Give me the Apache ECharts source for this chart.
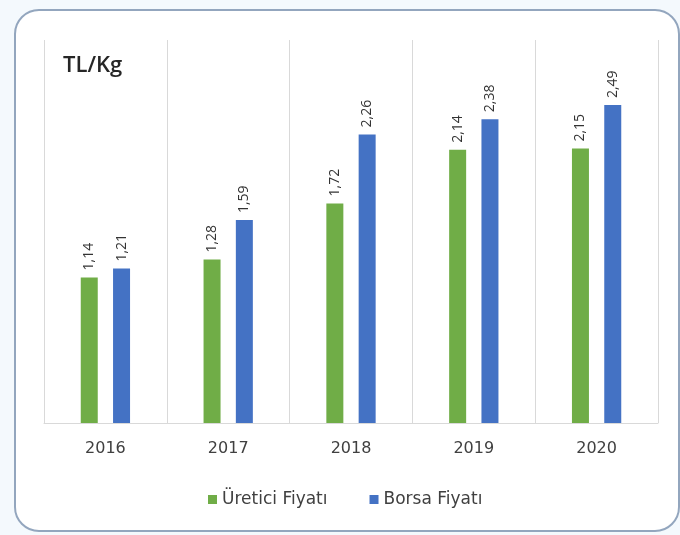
<!DOCTYPE html>
<html>
<head>
<meta charset="utf-8">
<script src="https://cdn.jsdelivr.net/npm/echarts@6/dist/echarts.min.js"></script>
<style>
  html, body { margin: 0; padding: 0; background: #f4f9fd; }
  #chart { width: 680px; height: 535px; }
</style>
</head>
<body>
<div id="chart"></div>
<script>
const years = ['2016', '2017', '2018', '2019', '2020']
const ureticiFiyati = [1.14, 1.28, 1.72, 2.14, 2.15]
const borsaFiyati = [1.21, 1.59, 2.26, 2.38, 2.49]

const myChart = echarts.init(document.getElementById('chart'))

// 1.14 -> "1,14"
const fmt = (p) => p.value.toFixed(2).replace('.', ',')

const labelStyle = {
  show: true,
  position: 'top',
  rotate: 90,
  align: 'left',
  verticalAlign: 'middle',
  distance: 7,
  formatter: fmt,
  fontFamily: 'Open Sans',
  fontWeight: 500,
  fontSize: 14,
  color: '#333333'
}

const option = {
  animation: false,
  backgroundColor: 'transparent',
  graphic: [
    {
      type: 'rect',
      z: -10,
      shape: { x: 15, y: 10, width: 664, height: 521, r: 24 },
      style: { fill: '#ffffff', stroke: '#93a6be', lineWidth: 2 }
    },
    {
      type: 'text',
      left: 63,
      top: 55,
      style: {
        text: 'TL/Kg',
        fontFamily: 'Open Sans',
        fontWeight: 600,
        fontSize: 22,
        fill: '#262626'
      }
    }
  ],
  grid: { left: 44, right: 22, top: 40, bottom: 112 },
  legend: {
    bottom: 22,
    left: 203,
    itemWidth: 9,
    itemHeight: 9,
    itemGap: 42,
    icon: 'rect',
    textStyle: { fontFamily: 'DejaVu Sans', fontSize: 17, color: '#404040' },
    data: ['Üretici Fiyatı', 'Borsa Fiyatı']
  },
  xAxis: {
    type: 'category',
    data: years,
    axisLine: { lineStyle: { color: '#d9d9d9', width: 1 } },
    axisTick: { show: false },
    splitLine: { show: true, lineStyle: { color: '#d9d9d9', width: 1 } },
    axisLabel: { margin: 18, fontFamily: 'DejaVu Sans', fontSize: 16, color: '#404040' }
  },
  yAxis: {
    type: 'value',
    min: 0,
    max: 3,
    show: false,
    splitLine: { show: false }
  },
  series: [
    {
      name: 'Üretici Fiyatı',
      type: 'bar',
      data: ureticiFiyati,
      barWidth: 17,
      barGap: '90%',
      itemStyle: { color: '#70ad47' },
      label: labelStyle
    },
    {
      name: 'Borsa Fiyatı',
      type: 'bar',
      data: borsaFiyati,
      barWidth: 17,
      itemStyle: { color: '#4472c4' },
      label: labelStyle
    }
  ]
}

myChart.setOption(option)
</script>
</body>
</html>
